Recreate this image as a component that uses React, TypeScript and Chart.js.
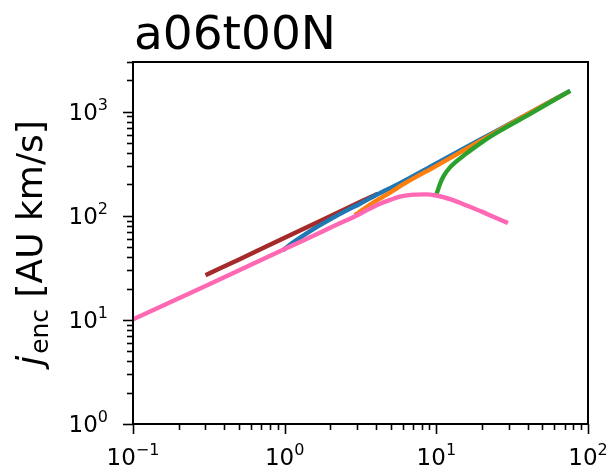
import { useEffect, useRef } from "react";
import { Chart, registerables } from "chart.js";

Chart.register(...registerables);

// Panel title and axis limits
const panelTitle = "a06t00N";
const xRange = [0.1, 100];
const yRange = [1, 3000];
const xMajorTicks = [0.1, 1, 10, 100];
const yMajorTicks = [1, 10, 100, 1000];

// Enclosed specific angular momentum j_enc [AU km/s] versus radius
const brownR = [0.31, 0.501, 1, 1.995, 3.981];
const brownJ = [27.4, 38.1, 61.5, 99.1, 159.6];

const blueR = [1, 1.122, 1.259, 1.585, 1.995, 2.512, 3.162, 3.981, 5.754, 10, 19.95, 39.81, 74.13];
const blueJ = [48.1, 54.6, 61.4, 76.2, 92.5, 110.9, 131.2, 157.4, 205.6, 318.4, 549.5, 948.4, 1549];

const orangeR = [2.985, 3.311, 3.981, 5.012, 6.31, 10, 15.85, 25.12, 39.81, 72.44];
const orangeJ = [104.5, 116.1, 138, 169, 208, 302, 441.6, 645.7, 944, 1514];

const greenR = [10.05, 10.57, 11.12, 12.3, 15.85, 20.37, 26.24, 43.55, 74.13];
const greenJ = [162.6, 202.3, 237.7, 291.7, 398, 518.8, 653, 988.5, 1549];

const pinkR = [0.1, 0.316, 1, 1.585, 1.995, 2.512, 2.985, 3.548, 4.169, 5.012, 5.754, 7.079, 8.511, 10, 12.59, 15.85, 19.95, 23.99, 28.77];
const pinkJ = [10.12, 21.9, 47.9, 65.3, 76.7, 89.5, 100.7, 114.8, 128.8, 142.9, 152.4, 159.6, 160.7, 156.7, 142.9, 125.6, 109.6, 97.3, 86.9];

const FONT = "'DejaVu Sans'";
const TICK_SIZE = 23;
const LINE_WIDTH = 4.4;

function exponentOf(v: number): string {
  return String(Math.round(Math.log10(v))).replace("-", "\u2212");
}

function logTickValues(lo: number, hi: number) {
  const out: { value: number; major: boolean }[] = [];
  for (let e = Math.floor(Math.log10(lo)); e <= Math.ceil(Math.log10(hi)); e++) {
    for (let m = 1; m <= 9; m++) {
      const v = m * Math.pow(10, e);
      if (v >= lo * 0.999 && v <= hi * 1.001) out.push({ value: v, major: m === 1 });
    }
  }
  return out;
}

function pts(xs: number[], ys: number[]) {
  return xs.map((x, i) => ({ x, y: ys[i] }));
}

// draws "10" with a raised exponent; anchor is (x, baseline)
function powerText(ctx: CanvasRenderingContext2D, v: number, x: number, base: number, align: "center" | "right") {
  const mainFont = `${TICK_SIZE}px ${FONT}`;
  const supFont = `${Math.round(TICK_SIZE * 0.7)}px ${FONT}`;
  const exp = exponentOf(v);
  ctx.font = mainFont;
  const w1 = ctx.measureText("10").width;
  ctx.font = supFont;
  const w2 = ctx.measureText(exp).width;
  const total = w1 + w2;
  const left = align === "center" ? x - total / 2 : x - total;
  ctx.textAlign = "left";
  ctx.textBaseline = "alphabetic";
  ctx.font = mainFont;
  ctx.fillText("10", left, base);
  ctx.font = supFont;
  ctx.fillText(exp, left + w1, base - TICK_SIZE * 0.42);
}

// Frame, tick marks, tick labels, title and y-axis label (italic j with subscript)
const decorations = {
  id: "decorations",
  afterDraw(chart: any) {
    const { ctx, chartArea: a, scales } = chart;
    ctx.save();
    ctx.strokeStyle = "#000";
    ctx.lineWidth = 2;
    ctx.strokeRect(a.left, a.top, a.right - a.left, a.bottom - a.top);

    ctx.lineWidth = 1.6;
    for (const t of logTickValues(xRange[0], xRange[1])) {
      const px = Math.round(scales.x.getPixelForValue(t.value)) + 0.5;
      const len = t.major ? 10 : 6;
      ctx.beginPath();
      ctx.moveTo(px, a.bottom);
      ctx.lineTo(px, a.bottom + len);
      ctx.stroke();
    }
    for (const t of logTickValues(yRange[0], yRange[1])) {
      const py = Math.round(scales.y.getPixelForValue(t.value)) + 0.5;
      const len = t.major ? 10 : 6;
      ctx.beginPath();
      ctx.moveTo(a.left, py);
      ctx.lineTo(a.left - len, py);
      ctx.stroke();
    }

    ctx.fillStyle = "#000";
    for (const v of xMajorTicks) {
      powerText(ctx, v, scales.x.getPixelForValue(v), a.bottom + 41, "center");
    }
    for (const v of yMajorTicks) {
      powerText(ctx, v, a.left - 25, scales.y.getPixelForValue(v) + 8, "right");
    }

    // title, left aligned over the axes
    ctx.font = `47px ${FONT}`;
    ctx.textAlign = "left";
    ctx.textBaseline = "alphabetic";
    ctx.fillText(panelTitle, a.left + 1, 49);

    // y label: j_enc [AU km/s]
    const F = 36;
    const italic = `italic ${F}px ${FONT}`;
    const sub = `${Math.round(F * 0.7)}px ${FONT}`;
    const main = `${F}px ${FONT}`;
    ctx.font = italic;
    const wj = ctx.measureText("j").width;
    ctx.font = sub;
    const ws = ctx.measureText("enc").width;
    ctx.font = main;
    const wr = ctx.measureText(" [AU km/s]").width;
    const total = wj + 2 + ws + wr;
    ctx.translate(42, (a.top + a.bottom) / 2);
    ctx.rotate(-Math.PI / 2);
    let x0 = -total / 2;
    ctx.font = italic;
    ctx.fillText("j", x0, 0);
    x0 += wj + 2;
    ctx.font = sub;
    ctx.fillText("enc", x0, F * 0.16);
    x0 += ws;
    ctx.font = main;
    ctx.fillText(" [AU km/s]", x0, 0);
    ctx.restore();
  },
};

function series(color: string, data: { x: number; y: number }[], order: number) {
  return {
    data,
    borderColor: color,
    backgroundColor: color,
    borderWidth: LINE_WIDTH,
    pointRadius: 0,
    fill: false,
    cubicInterpolationMode: "monotone" as const,
    borderCapStyle: "square" as const,
    borderJoinStyle: "round" as const,
    order,
  };
}

export default function App() {
  const ref = useRef<HTMLCanvasElement | null>(null);

  useEffect(() => {
    if (!ref.current) return;
    const chart = new Chart(ref.current, {
      type: "line",
      data: {
        datasets: [
          series("#ff69b4", pts(pinkR, pinkJ), 0),
          series("#2ca02c", pts(greenR, greenJ), 1),
          series("#ff7f0e", pts(orangeR, orangeJ), 2),
          series("#1f77b4", pts(blueR, blueJ), 3),
          series("#a52a2a", pts(brownR, brownJ), 4),
        ],
      },
      options: {
        responsive: false,
        animation: false,
        devicePixelRatio: 1,
        elements: {
          line: { borderWidth: LINE_WIDTH, borderCapStyle: "square", borderJoinStyle: "round" },
          point: { radius: 0 },
        },
        layout: { padding: { top: 62, right: 20, left: 0, bottom: 0 } },
        plugins: {
          legend: { display: false },
          tooltip: { enabled: false },
          title: { display: false },
        },
        scales: {
          x: {
            type: "logarithmic",
            min: xRange[0],
            max: xRange[1],
            position: "bottom",
            grid: { display: false, drawTicks: false },
            border: { display: false },
            afterBuildTicks: (s: any) => {
              s.ticks = xMajorTicks.map((v) => ({ value: v }));
            },
            afterFit: (s: any) => {
              s.height = 48;
            },
            ticks: { display: false },
          },
          y: {
            type: "logarithmic",
            min: yRange[0],
            max: yRange[1],
            position: "left",
            grid: { display: false, drawTicks: false },
            border: { display: false },
            afterBuildTicks: (s: any) => {
              s.ticks = yMajorTicks.map((v) => ({ value: v }));
            },
            afterFit: (s: any) => {
              s.width = 133;
            },
            ticks: { display: false },
          },
        },
      },
      plugins: [decorations],
    } as any);
    return () => chart.destroy();
  }, []);

  return (
    <div style={{ position: "fixed", left: 0, top: 0, width: 608, height: 472, background: "#fff" }}>
      <canvas ref={ref} width={608} height={472} />
    </div>
  );
}
